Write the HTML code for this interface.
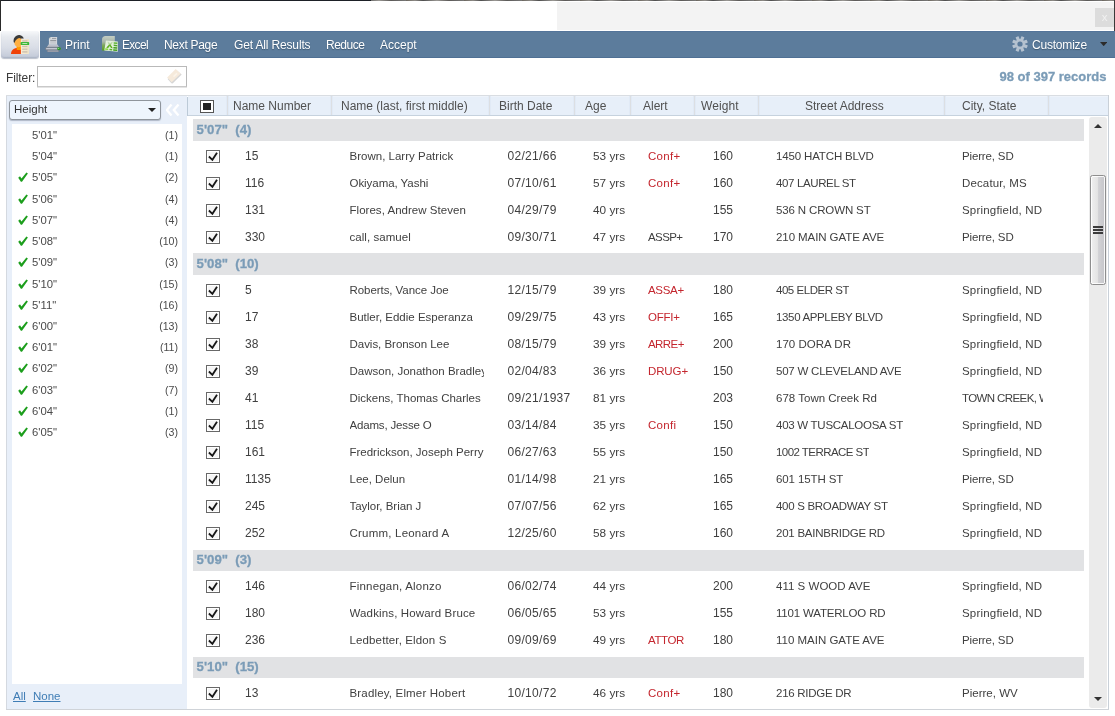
<!DOCTYPE html>
<html><head><meta charset="utf-8"><title>Results</title>
<style>
html,body{margin:0;padding:0;}
body{width:1115px;height:716px;position:relative;overflow:hidden;background:#fff;font-family:"Liberation Sans",sans-serif;font-size:12px;color:#404040;}
div,span,i,svg{position:absolute;box-sizing:border-box;}
#w{left:0;top:0;width:1115px;height:716px;will-change:transform;}
/* top strip */
.tline{left:0;top:0;width:1115px;height:1px;background:linear-gradient(90deg,#1d2026 0,#1d2026 371px,rgba(0,0,0,0) 371px),repeating-linear-gradient(90deg,#6b665e 0,#8d8a86 9px,#4f4f4f 17px,#9a9894 31px,#5c5a58 43px,#777 58px);}
.lline{left:0;top:0;width:1px;height:31px;background:#2a2a2a;}
.rline{left:1114px;top:0;width:1px;height:31px;background:#3a3a3a;}
.tgray{left:557px;top:2px;width:557px;height:28px;background:#f3f3f3;}
.xbox{left:1095px;top:8px;width:19px;height:19px;background:#dcdcdc;color:#f1f1f1;font-size:11.5px;line-height:18px;text-align:center;}
/* toolbar */
.tb{left:40px;top:31px;width:1075px;height:27px;background:#5c7c9c;border-top:1px solid #53749a;border-bottom:1px solid #4f7094;}
.ibtn{left:1px;top:31px;width:38px;height:27px;border-radius:3px;background:linear-gradient(180deg,#f7f8fa 0,#e6e9ee 22%,#dadee7 60%,#c2c9d7 100%);box-shadow:0 1px 1px rgba(130,140,160,.55), inset 0 -1px 1px rgba(150,160,180,.5);}
.tt{top:32px;height:27px;line-height:27px;color:#fff;font-size:12px;white-space:nowrap;text-shadow:0 1px 1px rgba(40,60,80,.55);}
/* filter */
.flabel{left:6px;top:67px;height:21px;line-height:22px;font-size:12px;color:#3a3a3a;letter-spacing:-.1px;}
.finput{left:37px;top:66px;width:150px;height:21px;border:1px solid #b9b9b9;border-bottom-color:#c9c9c9;background:#fff;box-shadow:0 1px 0 #e4e4e4;}
.rec{right:8.5px;top:66px;height:21px;line-height:21px;font-size:13px;font-weight:bold;color:#7b9cb7;white-space:nowrap;-webkit-text-stroke:.3px #7b9cb7;}
/* left panel */
.panel{left:6px;top:95px;width:181px;height:615px;background:#e8eff9;border:1px solid #d4d9e0;border-right:none;}
.plist{left:12px;top:124px;width:170px;height:560px;background:#fff;}
.dd{left:9px;top:100px;width:152px;height:20px;border:1px solid #8f959c;border-radius:3px;background:#eef5fd;box-shadow:0 1px 1px rgba(120,130,150,.5);}
.ddt{left:14px;top:99px;height:20px;line-height:20px;font-size:11.5px;color:#333;}
.si{left:12px;width:170px;height:20px;line-height:20px;font-size:11.3px;color:#4a4a4a;}
.si .ck{left:6px;top:5px;width:10px;height:10px;}
.si .sh{left:20px;top:0;}
.si .sc{right:4px;top:0;font-size:10.6px;}
.lnk{top:688px;height:16px;line-height:16px;font-size:11.5px;color:#3f7db5;text-decoration:underline;}
/* grid */
.gtop{left:6px;top:95px;width:1103px;height:1px;background:#d9dde2;}
.gleft{left:187px;top:97px;width:1px;height:19px;background:#bccad7;}
.gright{left:1108px;top:95px;width:1px;height:615px;background:#c9d0d8;}
.gbot{left:6px;top:709px;width:1103px;height:1px;background:#cfd3d8;}
.hd{left:188px;top:96px;width:920px;height:20px;background:#e7eff9;border-bottom:1px solid #c6d2de;border-top:1px solid #eef3fa;}
.hs{top:96px;width:1px;height:19px;background:#dcdfe3;box-shadow:-1px 0 0 #e1eaf6,1px 0 0 #e1eaf6;}
.ht{top:97px;height:19px;line-height:19px;font-size:12px;color:#505050;white-space:nowrap;}
.hcb{left:200px;top:100px;width:14px;height:13px;border:1px solid #555;background:#fff;}
.hcb b{position:absolute;left:2px;top:2px;width:8px;height:7px;background:#222;}
.gb{left:193px;width:891px;height:22px;background:#e1e2e4;}
.gb span{left:3.6px;top:0;height:21px;line-height:21px;font-size:13.2px;font-weight:bold;color:#7b9cb7;white-space:nowrap;-webkit-text-stroke:.3px #7b9cb7;}
.row{left:188px;width:900px;height:27px;line-height:27px;font-size:11.5px;color:#404040;white-space:nowrap;}
.row span{top:0;height:27px;overflow:hidden;}
.cb{left:18px;top:7px;width:14px;height:13px;border:1px solid #686868;background:#f5f5f5;box-shadow:inset 0 0 0 1px #fff;}
.cb svg{left:-1px;top:-1px;width:14px;height:13px;}
.c-num{left:57px;font-size:12px;}
.c-name{left:161.5px;width:134.5px;}
.c-date{left:319.5px;font-size:12px;letter-spacing:.3px;}
.c-age{left:405px;font-size:11.8px;}
.c-alert{left:460px;}
.c-wt{left:525px;font-size:12px;}
.c-st{left:588px;}
.c-city{left:774px;width:80.5px;}
.red{color:#c4262e;}
/* scrollbar */
.strack{left:1089px;top:117px;width:18px;height:591px;background:#ebebeb;border-radius:3px;}
.sthumb{left:1090px;top:175px;width:16px;height:110px;border:1px solid #8e8e8e;border-radius:2.5px;background:linear-gradient(90deg,#f0f0f0 0,#e3e3e3 49%,#d3d3d6 51%,#c5c5c9 100%);box-shadow:inset 0 0 0 1px rgba(255,255,255,.85);}
.grip{left:1093px;width:10px;height:2px;background:#3c3c3c;}

</style></head>
<body>
<div id="w">
<div class="tline"></div><div class="lline"></div><div class="rline"></div>
<div class="tgray"></div><div class="xbox">x</div>
<div class="tb"></div>
<div class="ibtn"></div>
<span class="tt" style="left:65px">Print</span>
<span class="tt" style="left:122px;letter-spacing:-0.7px">Excel</span>
<span class="tt" style="left:164px;letter-spacing:-0.3px">Next Page</span>
<span class="tt" style="left:234px;letter-spacing:-0.15px">Get All Results</span>
<span class="tt" style="left:326px;letter-spacing:-0.5px">Reduce</span>
<span class="tt" style="left:380px">Accept</span>
<span class="tt" style="left:1032px;letter-spacing:-0.2px">Customize</span>
<svg style="left:1100px;top:42px;width:7.4px;height:4.2px" viewBox="0 0 7.4 4.2"><path d="M0 0 H7.4 L3.7 4.2 Z" fill="#2c2c2c"/></svg>
<span class="flabel">Filter:</span>
<div class="finput"></div>
<span class="rec">98 of 397 records</span>
<svg style="left:9px;top:33px;width:22px;height:22px" viewBox="9 33 22 22">
<defs><linearGradient id="gdoc" x1="0" y1="0" x2="1" y2="0"><stop offset="0" stop-color="#f6ecd4"/><stop offset="1" stop-color="#efe2c4"/></linearGradient></defs>
<path d="M11 54 C11 50.5 13.2 48.4 16.4 47.9 L21 48 L21 54 Z" fill="#f04208"/>
<rect x="16.6" y="45.5" width="4.4" height="4.6" rx="1.2" fill="#ff9800"/>
<ellipse cx="18.6" cy="42.4" rx="4.3" ry="4.9" fill="#ffb043"/>
<path d="M13.9 42.6 C12.6 38.6 15.6 34.6 19.4 34.9 C21.8 35.1 23.2 36.6 23.8 38.4 C22 38.6 20.4 38.4 19.2 37.9 C17.4 38.3 15.4 39.6 14.6 42.8 Z" fill="#3a3a3a"/>
<rect x="20.9" y="39.2" width="8.1" height="14.8" fill="url(#gdoc)"/>
<rect x="22.2" y="40.3" width="5.2" height="1.3" fill="#cdbfae"/>
<rect x="22.2" y="45.9" width="5.2" height="1.2" fill="#cdbfae"/>
<rect x="22.2" y="48.6" width="5.2" height="1.2" fill="#cdbfae"/>
<rect x="22.2" y="51.2" width="5.2" height="1.4" fill="#cdbfae"/>
<rect x="20.6" y="42" width="8.6" height="3.1" rx="0.9" fill="#3cb73a"/>
<rect x="22.2" y="43" width="5.2" height="1.1" rx="0.4" fill="#b5e6ac"/>
</svg>
<svg style="left:44px;top:35px;width:18px;height:18px" viewBox="44 35 18 18">
<defs><linearGradient id="gpr" x1="0" y1="0" x2="0" y2="1"><stop offset="0" stop-color="#ccd0d8"/><stop offset="1" stop-color="#a3a7b3"/></linearGradient></defs>
<path d="M50.6 36.9 H57.1 V44.8 H48.9 V38.5 Z" fill="#d7dadf"/>
<path d="M48.9 38.5 L50.6 36.9 V38.5 Z" fill="#aeb8ae"/>
<rect x="52" y="37.9" width="4.2" height="0.9" fill="#8f9398"/>
<rect x="50.2" y="39.9" width="6" height="1.1" fill="#95999f"/>
<rect x="50.2" y="41.5" width="6" height="0.8" fill="#b3b7bc"/>
<rect x="50.2" y="42.7" width="6" height="0.8" fill="#bdc1c6"/>
<path d="M48.6 44.4 H57.4 L59.3 47.3 H46.7 Z" fill="url(#gpr)"/>
<rect x="45.4" y="47.2" width="15.5" height="3" rx="1" fill="#7e828c"/>
<rect x="46" y="48.2" width="12" height="1.1" rx=".5" fill="#dce0ea"/>
<rect x="47" y="50.2" width="12.1" height="1.8" rx=".4" fill="#868a96"/>
<rect x="48" y="50.7" width="10" height=".7" fill="#b2b6c2"/>
<ellipse cx="59" cy="48.7" rx="2" ry="1.45" fill="#2c932c"/><ellipse cx="58.4" cy="48.4" rx=".9" ry=".5" fill="#8edb88"/>
</svg>
<svg style="left:100px;top:34px;width:20px;height:20px" viewBox="100 34 20 20">
<defs>
<linearGradient id="gx1" x1="0" y1="0" x2="0" y2="1"><stop offset="0" stop-color="#c3cdc3"/><stop offset=".4" stop-color="#a9b6a9"/><stop offset=".62" stop-color="#7fa860"/><stop offset="1" stop-color="#58a01e"/></linearGradient>
<linearGradient id="gx2" x1="0" y1="0" x2="0" y2="1"><stop offset="0" stop-color="#d3e0cc"/><stop offset=".38" stop-color="#a7cf8b"/><stop offset=".6" stop-color="#62b123"/><stop offset="1" stop-color="#58a91b"/></linearGradient>
</defs>
<path d="M102 50.6 V39.5 C102 37.4 103.5 36.1 105.4 36.1 H114.8 V50.6 Z" fill="url(#gx1)"/>
<path d="M105.9 40.5 L117.8 41.6 L117.8 51.8 L104.3 50.6 Z" fill="#e3f0dc"/>
<path d="M107.2 41.6 L108.9 41.7 L110 43.8 L111.4 41.9 L113 42 L110.8 45 L112.8 48.2 L111 48.1 L109.8 46.1 L108.2 47.9 L106.2 47.8 L108.9 44.7 Z" fill="url(#gx2)"/>
<rect x="113.7" y="42.2" width="3.6" height="1.5" fill="#5fb336" transform="skewY(5)" transform-origin="113.7 42.2"/>
<rect x="113.7" y="44.6" width="3.6" height="1.5" fill="#4ea62a" transform="skewY(5)" transform-origin="113.7 44.6"/>
<rect x="113.4" y="46.9" width="3.8" height="1.5" fill="#3f9c1c" transform="skewY(5)" transform-origin="113.4 46.9"/>
<rect x="113.2" y="49.2" width="4" height="1.5" fill="#3f9c1c" transform="skewY(5)" transform-origin="113.2 49.2"/>
<rect x="105.1" y="48.2" width="3.2" height="1.5" rx=".5" fill="#84d935" transform="skewY(5)" transform-origin="105.1 48.2"/>
<rect x="109.4" y="48.7" width="2.9" height="1.5" rx=".5" fill="#5bb32a" transform="skewY(5)" transform-origin="109.4 48.7"/>
</svg>
<svg style="left:1010.7px;top:35px;width:18px;height:18px" viewBox="-9 -9 18 18">
<g fill="#b5c2d0">
<circle r="4.9"/>
<g id="tth"><rect x="-1.6" y="-7.8" width="3.2" height="4.4" rx=".4" transform="rotate(22.5)"/></g>
<rect x="-1.6" y="-7.8" width="3.2" height="4.4" rx=".4" transform="rotate(67.5)"/>
<rect x="-1.6" y="-7.8" width="3.2" height="4.4" rx=".4" transform="rotate(112.5)"/>
<rect x="-1.6" y="-7.8" width="3.2" height="4.4" rx=".4" transform="rotate(157.5)"/>
<rect x="-1.6" y="-7.8" width="3.2" height="4.4" rx=".4" transform="rotate(202.5)"/>
<rect x="-1.6" y="-7.8" width="3.2" height="4.4" rx=".4" transform="rotate(247.5)"/>
<rect x="-1.6" y="-7.8" width="3.2" height="4.4" rx=".4" transform="rotate(292.5)"/>
<rect x="-1.6" y="-7.8" width="3.2" height="4.4" rx=".4" transform="rotate(337.5)"/>
</g>
<circle r="2.6" fill="#5b7b9c"/>
</svg>
<svg style="left:165px;top:67px;width:19px;height:18px" viewBox="165 67 19 18">
<path d="M176.3 70 L181.7 74.6 L172.6 83.4 L171.4 83.3 L167.6 79 Z" fill="#cfcfcf" opacity=".85"/>
<path d="M175.7 69.1 L180.7 73.7 L171.7 82.3 L167.1 77.5 Z" fill="#f6eadb"/>
<path d="M173 76 L176.5 72.8 L177.6 73.9 L174 77.2 Z" fill="#fbf4ea"/>
</svg>
<div class="panel"></div><div class="plist"></div>
<div class="dd"></div><span class="ddt">Height</span>
<svg style="left:148px;top:108px;width:8px;height:4px" viewBox="0 0 8 4"><path d="M0 0 H8 L4 4 Z" fill="#222"/></svg>
<svg style="left:166px;top:104px;width:14px;height:12px" viewBox="0 0 14 12"><path d="M5.5 0.5 L0.8 6 L5.5 11.5 M12.5 0.5 L7.8 6 L12.5 11.5" fill="none" stroke="#fff" stroke-width="2.3"/></svg>
<span class="lnk" style="left:13px">All</span><span class="lnk" style="left:33px">None</span>
<div class="si" style="top:125.0px"><span class="sh">5'01&quot;</span><span class="sc">(1)</span></div>
<div class="si" style="top:146.21px"><span class="sh">5'04&quot;</span><span class="sc">(1)</span></div>
<div class="si" style="top:167.43px"><svg class="ck" viewBox="0 0 10 10"><path d="M0.2 5.8 L2.0 4.2 L3.5 6.4 L8.4 0.4 L9.9 1.5 L4.0 9.8 L2.9 9.8 Z" fill="#1c9e1c"/></svg><span class="sh">5'05&quot;</span><span class="sc">(2)</span></div>
<div class="si" style="top:188.64px"><svg class="ck" viewBox="0 0 10 10"><path d="M0.2 5.8 L2.0 4.2 L3.5 6.4 L8.4 0.4 L9.9 1.5 L4.0 9.8 L2.9 9.8 Z" fill="#1c9e1c"/></svg><span class="sh">5'06&quot;</span><span class="sc">(4)</span></div>
<div class="si" style="top:209.86px"><svg class="ck" viewBox="0 0 10 10"><path d="M0.2 5.8 L2.0 4.2 L3.5 6.4 L8.4 0.4 L9.9 1.5 L4.0 9.8 L2.9 9.8 Z" fill="#1c9e1c"/></svg><span class="sh">5'07&quot;</span><span class="sc">(4)</span></div>
<div class="si" style="top:231.07px"><svg class="ck" viewBox="0 0 10 10"><path d="M0.2 5.8 L2.0 4.2 L3.5 6.4 L8.4 0.4 L9.9 1.5 L4.0 9.8 L2.9 9.8 Z" fill="#1c9e1c"/></svg><span class="sh">5'08&quot;</span><span class="sc">(10)</span></div>
<div class="si" style="top:252.29px"><svg class="ck" viewBox="0 0 10 10"><path d="M0.2 5.8 L2.0 4.2 L3.5 6.4 L8.4 0.4 L9.9 1.5 L4.0 9.8 L2.9 9.8 Z" fill="#1c9e1c"/></svg><span class="sh">5'09&quot;</span><span class="sc">(3)</span></div>
<div class="si" style="top:273.5px"><svg class="ck" viewBox="0 0 10 10"><path d="M0.2 5.8 L2.0 4.2 L3.5 6.4 L8.4 0.4 L9.9 1.5 L4.0 9.8 L2.9 9.8 Z" fill="#1c9e1c"/></svg><span class="sh">5'10&quot;</span><span class="sc">(15)</span></div>
<div class="si" style="top:294.71px"><svg class="ck" viewBox="0 0 10 10"><path d="M0.2 5.8 L2.0 4.2 L3.5 6.4 L8.4 0.4 L9.9 1.5 L4.0 9.8 L2.9 9.8 Z" fill="#1c9e1c"/></svg><span class="sh">5'11&quot;</span><span class="sc">(16)</span></div>
<div class="si" style="top:315.93px"><svg class="ck" viewBox="0 0 10 10"><path d="M0.2 5.8 L2.0 4.2 L3.5 6.4 L8.4 0.4 L9.9 1.5 L4.0 9.8 L2.9 9.8 Z" fill="#1c9e1c"/></svg><span class="sh">6'00&quot;</span><span class="sc">(13)</span></div>
<div class="si" style="top:337.14px"><svg class="ck" viewBox="0 0 10 10"><path d="M0.2 5.8 L2.0 4.2 L3.5 6.4 L8.4 0.4 L9.9 1.5 L4.0 9.8 L2.9 9.8 Z" fill="#1c9e1c"/></svg><span class="sh">6'01&quot;</span><span class="sc">(11)</span></div>
<div class="si" style="top:358.36px"><svg class="ck" viewBox="0 0 10 10"><path d="M0.2 5.8 L2.0 4.2 L3.5 6.4 L8.4 0.4 L9.9 1.5 L4.0 9.8 L2.9 9.8 Z" fill="#1c9e1c"/></svg><span class="sh">6'02&quot;</span><span class="sc">(9)</span></div>
<div class="si" style="top:379.57px"><svg class="ck" viewBox="0 0 10 10"><path d="M0.2 5.8 L2.0 4.2 L3.5 6.4 L8.4 0.4 L9.9 1.5 L4.0 9.8 L2.9 9.8 Z" fill="#1c9e1c"/></svg><span class="sh">6'03&quot;</span><span class="sc">(7)</span></div>
<div class="si" style="top:400.79px"><svg class="ck" viewBox="0 0 10 10"><path d="M0.2 5.8 L2.0 4.2 L3.5 6.4 L8.4 0.4 L9.9 1.5 L4.0 9.8 L2.9 9.8 Z" fill="#1c9e1c"/></svg><span class="sh">6'04&quot;</span><span class="sc">(1)</span></div>
<div class="si" style="top:422.0px"><svg class="ck" viewBox="0 0 10 10"><path d="M0.2 5.8 L2.0 4.2 L3.5 6.4 L8.4 0.4 L9.9 1.5 L4.0 9.8 L2.9 9.8 Z" fill="#1c9e1c"/></svg><span class="sh">6'05&quot;</span><span class="sc">(3)</span></div>
<div class="hd"></div>
<div class="gtop"></div><div class="gleft"></div><div class="gright"></div><div class="gbot"></div>
<div class="hcb"><b></b></div>
<div class="hs" style="left:227px"></div><div class="hs" style="left:331px"></div><div class="hs" style="left:489px"></div>
<div class="hs" style="left:574px"></div><div class="hs" style="left:630px"></div><div class="hs" style="left:694px"></div>
<div class="hs" style="left:758px"></div><div class="hs" style="left:944px"></div><div class="hs" style="left:1048px"></div>
<span class="ht" style="left:233px">Name Number</span>
<span class="ht" style="left:341px">Name (last, first middle)</span>
<span class="ht" style="left:499px">Birth Date</span>
<span class="ht" style="left:585px">Age</span>
<span class="ht" style="left:643px">Alert</span>
<span class="ht" style="left:701px;letter-spacing:.1px">Weight</span>
<span class="ht" style="left:805px">Street Address</span>
<span class="ht" style="left:962px">City, State</span>
<div class="gb" style="top:119px;height:22px"><span style="top:0px">5'07&quot;&nbsp;&nbsp;(4)</span></div>
<div class="row" style="top:143px"><i class="cb"><svg viewBox="0 0 14 13"><path d="M2.9 6.5 L6.4 9.8 L11 2.8" fill="none" stroke="#161616" stroke-width="1.8"/></svg></i><span class="c-num">15</span><span class="c-name" style="letter-spacing:0.01px">Brown, Larry Patrick</span><span class="c-date">02/21/66</span><span class="c-age">53 yrs</span><span class="c-alert red" style="letter-spacing:0.30px">Conf+</span><span class="c-wt">160</span><span class="c-st" style="letter-spacing:-0.15px">1450 HATCH BLVD</span><span class="c-city" style="letter-spacing:-0.15px">Pierre, SD</span></div>
<div class="row" style="top:170px"><i class="cb"><svg viewBox="0 0 14 13"><path d="M2.9 6.5 L6.4 9.8 L11 2.8" fill="none" stroke="#161616" stroke-width="1.8"/></svg></i><span class="c-num">116</span><span class="c-name" style="letter-spacing:-0.05px">Okiyama, Yashi</span><span class="c-date">07/10/61</span><span class="c-age">57 yrs</span><span class="c-alert red" style="letter-spacing:0.30px">Conf+</span><span class="c-wt">160</span><span class="c-st" style="letter-spacing:-0.37px">407 LAUREL ST</span><span class="c-city" style="letter-spacing:0.14px">Decatur, MS</span></div>
<div class="row" style="top:197px"><i class="cb"><svg viewBox="0 0 14 13"><path d="M2.9 6.5 L6.4 9.8 L11 2.8" fill="none" stroke="#161616" stroke-width="1.8"/></svg></i><span class="c-num">131</span><span class="c-name" style="letter-spacing:0.03px">Flores, Andrew Steven</span><span class="c-date">04/29/79</span><span class="c-age">40 yrs</span><span class="c-wt">155</span><span class="c-st" style="letter-spacing:-0.14px">536 N CROWN ST</span><span class="c-city" style="letter-spacing:0.20px">Springfield, ND</span></div>
<div class="row" style="top:224px"><i class="cb"><svg viewBox="0 0 14 13"><path d="M2.9 6.5 L6.4 9.8 L11 2.8" fill="none" stroke="#161616" stroke-width="1.8"/></svg></i><span class="c-num">330</span><span class="c-name" style="letter-spacing:0.05px">call, samuel</span><span class="c-date">09/30/71</span><span class="c-age">47 yrs</span><span class="c-alert" style="letter-spacing:-0.58px">ASSP+</span><span class="c-wt">170</span><span class="c-st" style="letter-spacing:-0.08px">210 MAIN GATE AVE</span><span class="c-city" style="letter-spacing:-0.15px">Pierre, SD</span></div>
<div class="gb" style="top:253px;height:22px"><span style="top:0px">5'08&quot;&nbsp;&nbsp;(10)</span></div>
<div class="row" style="top:277px"><i class="cb"><svg viewBox="0 0 14 13"><path d="M2.9 6.5 L6.4 9.8 L11 2.8" fill="none" stroke="#161616" stroke-width="1.8"/></svg></i><span class="c-num">5</span><span class="c-name" style="letter-spacing:-0.06px">Roberts, Vance Joe</span><span class="c-date">12/15/79</span><span class="c-age">39 yrs</span><span class="c-alert red" style="letter-spacing:-0.32px">ASSA+</span><span class="c-wt">180</span><span class="c-st" style="letter-spacing:-0.47px">405 ELDER ST</span><span class="c-city" style="letter-spacing:0.20px">Springfield, ND</span></div>
<div class="row" style="top:304px"><i class="cb"><svg viewBox="0 0 14 13"><path d="M2.9 6.5 L6.4 9.8 L11 2.8" fill="none" stroke="#161616" stroke-width="1.8"/></svg></i><span class="c-num">17</span><span class="c-name" style="letter-spacing:-0.00px">Butler, Eddie Esperanza</span><span class="c-date">09/29/75</span><span class="c-age">43 yrs</span><span class="c-alert red" style="letter-spacing:-0.24px">OFFI+</span><span class="c-wt">165</span><span class="c-st" style="letter-spacing:-0.35px">1350 APPLEBY BLVD</span><span class="c-city" style="letter-spacing:0.20px">Springfield, ND</span></div>
<div class="row" style="top:331px"><i class="cb"><svg viewBox="0 0 14 13"><path d="M2.9 6.5 L6.4 9.8 L11 2.8" fill="none" stroke="#161616" stroke-width="1.8"/></svg></i><span class="c-num">38</span><span class="c-name" style="letter-spacing:-0.03px">Davis, Bronson Lee</span><span class="c-date">08/15/79</span><span class="c-age">39 yrs</span><span class="c-alert red" style="letter-spacing:-0.57px">ARRE+</span><span class="c-wt">200</span><span class="c-st" style="letter-spacing:0.02px">170 DORA DR</span><span class="c-city" style="letter-spacing:0.20px">Springfield, ND</span></div>
<div class="row" style="top:358px"><i class="cb"><svg viewBox="0 0 14 13"><path d="M2.9 6.5 L6.4 9.8 L11 2.8" fill="none" stroke="#161616" stroke-width="1.8"/></svg></i><span class="c-num">39</span><span class="c-name">Dawson, Jonathon Bradley</span><span class="c-date">02/04/83</span><span class="c-age">36 yrs</span><span class="c-alert red" style="letter-spacing:-0.12px">DRUG+</span><span class="c-wt">150</span><span class="c-st" style="letter-spacing:-0.22px">507 W CLEVELAND AVE</span><span class="c-city" style="letter-spacing:0.20px">Springfield, ND</span></div>
<div class="row" style="top:385px"><i class="cb"><svg viewBox="0 0 14 13"><path d="M2.9 6.5 L6.4 9.8 L11 2.8" fill="none" stroke="#161616" stroke-width="1.8"/></svg></i><span class="c-num">41</span><span class="c-name" style="letter-spacing:-0.01px">Dickens, Thomas Charles</span><span class="c-date">09/21/1937</span><span class="c-age">81 yrs</span><span class="c-wt">203</span><span class="c-st" style="letter-spacing:0.01px">678 Town Creek Rd</span><span class="c-city" style="letter-spacing:-0.60px">TOWN CREEK, WV</span></div>
<div class="row" style="top:412px"><i class="cb"><svg viewBox="0 0 14 13"><path d="M2.9 6.5 L6.4 9.8 L11 2.8" fill="none" stroke="#161616" stroke-width="1.8"/></svg></i><span class="c-num">115</span><span class="c-name" style="letter-spacing:-0.17px">Adams, Jesse O</span><span class="c-date">03/14/84</span><span class="c-age">35 yrs</span><span class="c-alert red" style="letter-spacing:0.31px">Confi</span><span class="c-wt">150</span><span class="c-st" style="letter-spacing:-0.27px">403 W TUSCALOOSA ST</span><span class="c-city" style="letter-spacing:0.20px">Springfield, ND</span></div>
<div class="row" style="top:439px"><i class="cb"><svg viewBox="0 0 14 13"><path d="M2.9 6.5 L6.4 9.8 L11 2.8" fill="none" stroke="#161616" stroke-width="1.8"/></svg></i><span class="c-num">161</span><span class="c-name" style="letter-spacing:-0.01px">Fredrickson, Joseph Perry</span><span class="c-date">06/27/63</span><span class="c-age">55 yrs</span><span class="c-wt">150</span><span class="c-st" style="letter-spacing:-0.55px">1002 TERRACE ST</span><span class="c-city" style="letter-spacing:0.20px">Springfield, ND</span></div>
<div class="row" style="top:466px"><i class="cb"><svg viewBox="0 0 14 13"><path d="M2.9 6.5 L6.4 9.8 L11 2.8" fill="none" stroke="#161616" stroke-width="1.8"/></svg></i><span class="c-num">1135</span><span class="c-name" style="letter-spacing:-0.00px">Lee, Delun</span><span class="c-date">01/14/98</span><span class="c-age">21 yrs</span><span class="c-wt">165</span><span class="c-st" style="letter-spacing:-0.11px">601 15TH ST</span><span class="c-city" style="letter-spacing:-0.15px">Pierre, SD</span></div>
<div class="row" style="top:493px"><i class="cb"><svg viewBox="0 0 14 13"><path d="M2.9 6.5 L6.4 9.8 L11 2.8" fill="none" stroke="#161616" stroke-width="1.8"/></svg></i><span class="c-num">245</span><span class="c-name" style="letter-spacing:-0.03px">Taylor, Brian J</span><span class="c-date">07/07/56</span><span class="c-age">62 yrs</span><span class="c-wt">165</span><span class="c-st" style="letter-spacing:-0.30px">400 S BROADWAY ST</span><span class="c-city" style="letter-spacing:0.20px">Springfield, ND</span></div>
<div class="row" style="top:520px"><i class="cb"><svg viewBox="0 0 14 13"><path d="M2.9 6.5 L6.4 9.8 L11 2.8" fill="none" stroke="#161616" stroke-width="1.8"/></svg></i><span class="c-num">252</span><span class="c-name" style="letter-spacing:0.21px">Crumm, Leonard A</span><span class="c-date">12/25/60</span><span class="c-age">58 yrs</span><span class="c-wt">160</span><span class="c-st" style="letter-spacing:-0.25px">201 BAINBRIDGE RD</span><span class="c-city" style="letter-spacing:0.20px">Springfield, ND</span></div>
<div class="gb" style="top:550px;height:21px"><span style="top:-1px">5'09&quot;&nbsp;&nbsp;(3)</span></div>
<div class="row" style="top:573px"><i class="cb"><svg viewBox="0 0 14 13"><path d="M2.9 6.5 L6.4 9.8 L11 2.8" fill="none" stroke="#161616" stroke-width="1.8"/></svg></i><span class="c-num">146</span><span class="c-name" style="letter-spacing:0.20px">Finnegan, Alonzo</span><span class="c-date">06/02/74</span><span class="c-age">44 yrs</span><span class="c-wt">200</span><span class="c-st" style="letter-spacing:0.02px">411 S WOOD AVE</span><span class="c-city" style="letter-spacing:0.20px">Springfield, ND</span></div>
<div class="row" style="top:600px"><i class="cb"><svg viewBox="0 0 14 13"><path d="M2.9 6.5 L6.4 9.8 L11 2.8" fill="none" stroke="#161616" stroke-width="1.8"/></svg></i><span class="c-num">180</span><span class="c-name" style="letter-spacing:0.14px">Wadkins, Howard Bruce</span><span class="c-date">06/05/65</span><span class="c-age">53 yrs</span><span class="c-wt">155</span><span class="c-st" style="letter-spacing:-0.18px">1101 WATERLOO RD</span><span class="c-city" style="letter-spacing:0.20px">Springfield, ND</span></div>
<div class="row" style="top:627px"><i class="cb"><svg viewBox="0 0 14 13"><path d="M2.9 6.5 L6.4 9.8 L11 2.8" fill="none" stroke="#161616" stroke-width="1.8"/></svg></i><span class="c-num">236</span><span class="c-name" style="letter-spacing:0.13px">Ledbetter, Eldon S</span><span class="c-date">09/09/69</span><span class="c-age">49 yrs</span><span class="c-alert red" style="letter-spacing:-0.42px">ATTOR</span><span class="c-wt">180</span><span class="c-st" style="letter-spacing:-0.01px">110 MAIN GATE AVE</span><span class="c-city" style="letter-spacing:-0.15px">Pierre, SD</span></div>
<div class="gb" style="top:657px;height:21px"><span style="top:-1px">5'10&quot;&nbsp;&nbsp;(15)</span></div>
<div class="row" style="top:680px"><i class="cb"><svg viewBox="0 0 14 13"><path d="M2.9 6.5 L6.4 9.8 L11 2.8" fill="none" stroke="#161616" stroke-width="1.8"/></svg></i><span class="c-num">13</span><span class="c-name" style="letter-spacing:0.17px">Bradley, Elmer Hobert</span><span class="c-date">10/10/72</span><span class="c-age">46 yrs</span><span class="c-alert red" style="letter-spacing:0.30px">Conf+</span><span class="c-wt">180</span><span class="c-st" style="letter-spacing:-0.27px">216 RIDGE DR</span><span class="c-city" style="letter-spacing:0.01px">Pierre, WV</span></div>
<div class="strack"></div>
<svg style="left:1094px;top:124px;width:8px;height:4px" viewBox="0 0 8 4"><path d="M0 4 H8 L4 0 Z" fill="#333"/></svg>
<svg style="left:1094px;top:697px;width:8px;height:4px" viewBox="0 0 8 4"><path d="M0 0 H8 L4 4 Z" fill="#333"/></svg>
<div class="sthumb"></div>
<div class="grip" style="top:226px"></div><div class="grip" style="top:229px"></div><div class="grip" style="top:232px"></div>
</div>
</body></html>
